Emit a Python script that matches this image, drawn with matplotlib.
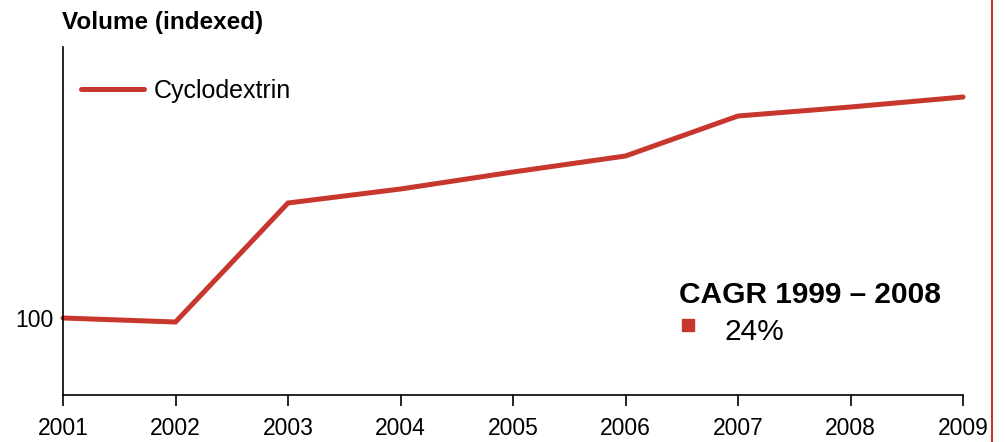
import matplotlib
matplotlib.use("Agg")
import matplotlib.pyplot as plt
from matplotlib.lines import Line2D

plt.rcParams['font.family'] = ['Liberation Sans', 'DejaVu Sans']

# indexed volume, 2001 = 100
years = [2001, 2002, 2003, 2004, 2005, 2006, 2007, 2008, 2009]
volume = [100, 98, 157.5, 164.5, 173, 181, 201, 205.5, 210.5]
series_name = "Cyclodextrin"
cagr_title = "CAGR 1999 \u2013 2008"
cagr_value = "24%"

red = "#C8372D"
W, H = 1005, 442

fig = plt.figure(figsize=(W / 100, H / 100), dpi=100)
ax = fig.add_axes([63 / W, 1 - 395 / H, 900 / W, 348 / H])

ax.plot(years, volume, color=red, lw=3.6, solid_capstyle='round',
        solid_joinstyle='miter', clip_on=False, label=series_name)

ax.set_xlim(2001, 2009)
ax.set_ylim(61.5, 235.5)
ax.set_xticks(years)
ax.set_xticklabels([str(y) for y in years], fontsize=16.5)
ax.set_yticks([100])
ax.set_yticklabels(["100"], fontsize=16.5)
ax.tick_params(axis='x', length=8, width=1.2, pad=8, direction='out')
ax.tick_params(axis='y', length=0, pad=7)
for s in ['top', 'right']:
    ax.spines[s].set_visible(False)
for s in ['left', 'bottom']:
    ax.spines[s].set_linewidth(1.2)

ax.legend(loc='upper left', bbox_to_anchor=(-0.005, 0.972), frameon=False,
          fontsize=18, handlelength=2.5, handletextpad=0.4)

fig.text(62 / W, 1 - 22 / H, "Volume (indexed)", fontsize=17.5,
         fontweight='bold', va='center', ha='left')

# CAGR callout
fig.text(679 / W, 1 - 295 / H, cagr_title, fontsize=21.5,
         fontweight='bold', va='center', ha='left')
fig.add_artist(Line2D([688 / W], [1 - 325 / H], marker='s', markersize=8,
                      color=red, linestyle='none'))
fig.text(724 / W, 1 - 332 / H, cagr_value, fontsize=21.5, va='center', ha='left')

# page border on the right
fig.add_artist(Line2D([992 / W, 992 / W], [0, 1], color=red, lw=1.5))

fig.savefig("out.png", dpi=100)
